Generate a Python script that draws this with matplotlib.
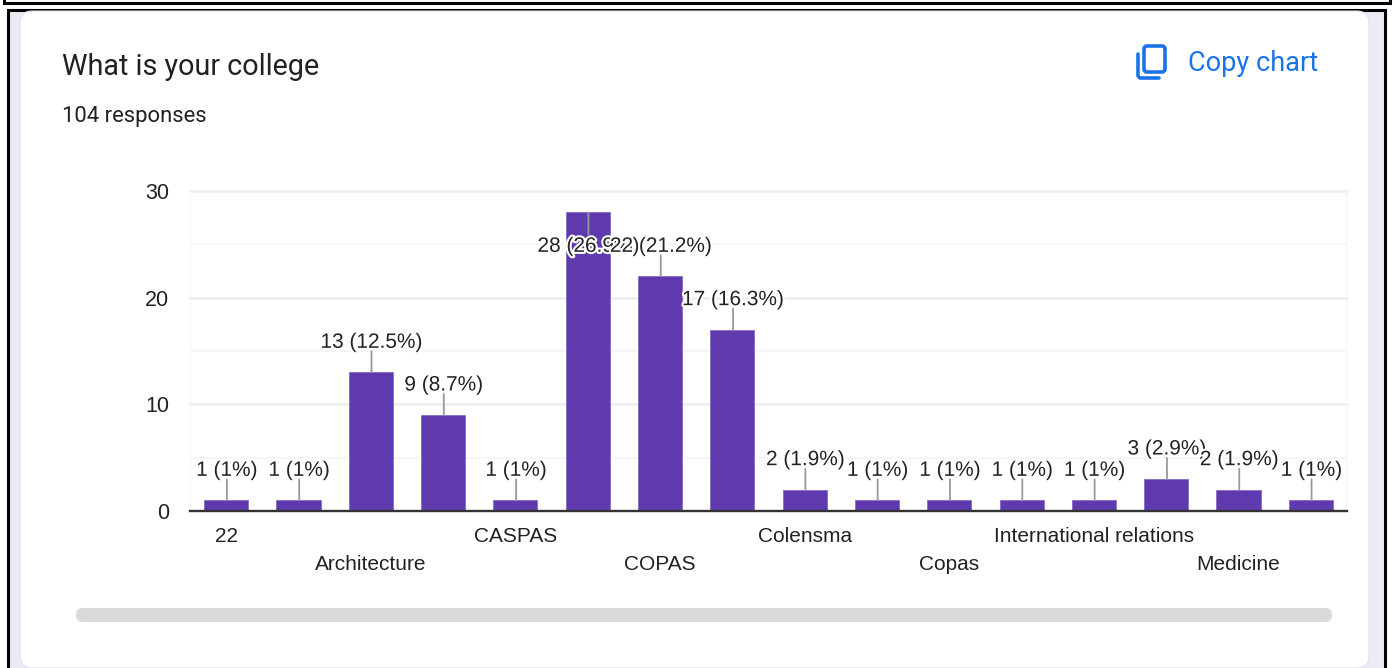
import matplotlib
matplotlib.use("Agg")
import matplotlib.pyplot as plt
import matplotlib.patheffects as pe
from matplotlib.patches import FancyBboxPatch, Rectangle

W, H = 1394, 668
title = "What is your college"
responses = "104 responses"
copy_label = "Copy chart"
tick_names = ["22", "", "Architecture", "", "CASPAS", "", "COPAS", "", "Colensma", "",
              "Copas", "", "International relations", "", "Medicine", ""]
counts = [1, 1, 13, 9, 1, 28, 22, 17, 2, 1, 1, 1, 1, 3, 2, 1]
labels = ["1 (1%)", "1 (1%)", "13 (12.5%)", "9 (8.7%)", "1 (1%)", "28 (26.9%)", "22 (21.2%)",
          "17 (16.3%)", "2 (1.9%)", "1 (1%)", "1 (1%)", "1 (1%)", "1 (1%)", "3 (2.9%)",
          "2 (1.9%)", "1 (1%)"]
y_ticks = [0, 10, 20, 30]
y_minor = [5, 15, 25]

PURPLE = "#5F3AAE"
LAV = "#EDEAF6"
TXT = "#222222"
BLUE = "#1A73E8"

fig = plt.figure(figsize=(W / 100, H / 100), dpi=100, facecolor="white")

# page furniture in pixel coordinates
bg = fig.add_axes([0, 0, 1, 1], zorder=0)
bg.set_xlim(0, W)
bg.set_ylim(H, 0)
bg.axis("off")
bg.plot([4, 4, 1390, 1390], [0, 3, 3, 0], color="black", lw=2.2, solid_joinstyle="miter")
bg.add_patch(Rectangle((8, 10), 1377, 670, fc=LAV, ec="black", lw=2.2))
bg.add_patch(FancyBboxPatch((32, 23), 1325, 633, boxstyle="round,pad=12,rounding_size=12",
                            fc="white", ec="#E0DEE8", lw=0.8))
bg.add_patch(FancyBboxPatch((76, 608), 1256, 14, boxstyle="round,pad=0,rounding_size=7",
                            fc="#D9D9D9", ec="none"))
bg.text(62, 67, title, family="Roboto", fontsize=20.7, color="#202124", va="center", ha="left")
bg.text(62, 116.5, responses, family="Roboto", fontsize=15.8, color="#202124", va="center", ha="left")
bg.text(1188, 63.5, copy_label, family="Roboto", fontsize=19.5, color=BLUE, va="center", ha="left")
# copy icon
bg.add_patch(FancyBboxPatch((1144, 46), 21, 26, boxstyle="round,pad=0,rounding_size=3",
                            fc="none", ec=BLUE, lw=2.6))
bg.plot([1138, 1138, 1140, 1159], [54, 76, 78, 78], color=BLUE, lw=2.6, solid_capstyle="round")

# chart
left, right, top, bottom = 190, 1347, 191, 511
ax = fig.add_axes([left / W, 1 - bottom / H, (right - left) / W, (bottom - top) / H], zorder=2)
ax.patch.set_alpha(0)
x = list(range(len(counts)))
ax.set_xlim(-0.5, len(counts) - 0.5)
ax.set_ylim(0, 30)
for v in y_minor:
    ax.axhline(v, color="#F6F6F6", lw=1.4, zorder=1)
for v in y_ticks[1:]:
    ax.axhline(v, color="#EDEDED", lw=1.8, zorder=1, clip_on=False)
ax.bar(x, counts, width=0.61, color=PURPLE, edgecolor="#7E62BE", lw=0.5, zorder=2)

for s in ["top", "right", "left"]:
    ax.spines[s].set_visible(False)
ax.axvline(-0.5, color="#F3F3F3", lw=1.2, zorder=1)
ax.axvline(len(counts) - 0.5, color="#F3F3F3", lw=1.2, zorder=1)
ax.spines["bottom"].set_color("#333333")
ax.spines["bottom"].set_linewidth(1.7)
ax.spines["bottom"].set_zorder(5)
ax.set_yticks(y_ticks)
ax.set_yticklabels([str(t) for t in y_ticks], family="Liberation Sans", fontsize=15.5, color=TXT)
ax.tick_params(axis="y", length=0, pad=15)
ax.set_xticks([])

for i, name in enumerate(tick_names):
    if name:
        row = 25 if i % 4 == 0 else 53
        ax.annotate(name, xy=(i, 0), xytext=(0, -row), textcoords="offset pixels",
                    ha="center", va="center", family="Liberation Sans", fontsize=15,
                    color=TXT, annotation_clip=False)

halo = [pe.withStroke(linewidth=3, foreground="white")]
for i, (v, lab) in enumerate(zip(counts, labels)):
    # the tallest bar's label is pushed inside the bar, as in the source
    lead = -22 if v == max(counts) else 21
    text_off = -34 if v == max(counts) else 30
    ax.annotate("", xy=(i + 0.01, v), xytext=(0, lead), textcoords="offset pixels",
                arrowprops=dict(arrowstyle="-", color="#999999", lw=1.3, shrinkA=0, shrinkB=0),
                zorder=6 + i, annotation_clip=False)
    ax.annotate(lab, xy=(i + 0.01, v), xytext=(0, text_off), textcoords="offset pixels",
                ha="center", va="center", family="Liberation Sans", fontsize=15, color=TXT,
                path_effects=halo, zorder=7 + i, annotation_clip=False)

fig.savefig("out.png", dpi=100, facecolor="white")
